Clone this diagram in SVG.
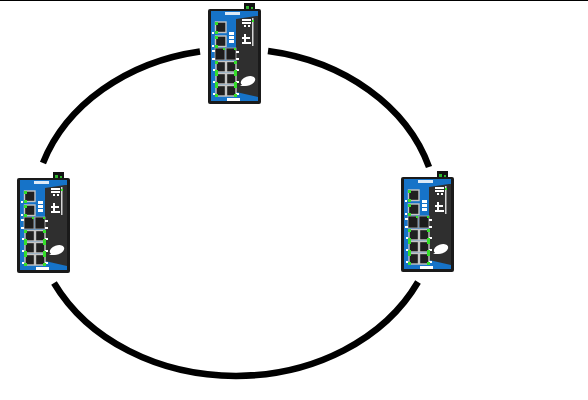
<svg xmlns="http://www.w3.org/2000/svg" xmlns:xlink="http://www.w3.org/1999/xlink" width="588" height="400" viewBox="0 0 588 400">
<style>
.ring{fill:none;stroke:#000;stroke-width:6.500}
.port{fill:#202020;stroke:#c4c4c4;stroke-width:1.400}
.sfp{fill:#1c1c1c;stroke:#a8a8a8;stroke-width:.9}
.led{fill:#35e02a}
.w{fill:#fff}
</style>
<defs>
<g id="sw">
<rect x="36" y="-6" width="11" height="7" fill="#111"/>
<rect x="38" y="-3" width="3" height="3" fill="#2fb52f"/>
<rect x="43" y="-2" width="2" height="2" fill="#2fb52f"/>
<rect x="0" y="0" width="53" height="95" rx="2" fill="#1a1a1a"/>
<rect x="3" y="2" width="47" height="90" fill="#1673c8"/>
<path d="M28 10L48 7H50V88L28 83Z" fill="#2f2f2f"/>
<rect x="17" y="3" width="15" height="3" class="w" opacity=".85"/>
<rect x="7.500" y="13" width="10.500" height="10.500" class="port"/>
<rect x="7.500" y="27" width="10.500" height="10.500" class="port"/>
<rect x="7" y="39" width="10" height="12" class="sfp"/>
<rect x="18" y="39" width="10" height="12" class="sfp"/>
<rect x="8" y="52.500" width="9.500" height="10.500" class="port"/>
<rect x="18.500" y="52.500" width="9.500" height="10.500" class="port"/>
<rect x="8" y="64.500" width="9.500" height="10.500" class="port"/>
<rect x="18.500" y="64.500" width="9.500" height="10.500" class="port"/>
<rect x="8" y="76.500" width="9.500" height="10.500" class="port"/>
<rect x="18.500" y="76.500" width="9.500" height="10.500" class="port"/>
<g class="w">
<rect x="21" y="23" width="5" height="3"/><rect x="21" y="27" width="5" height="3"/><rect x="21" y="31" width="5" height="3"/>
<rect x="34" y="10" width="9" height="2"/><rect x="34" y="13" width="9" height="2"/><rect x="36" y="16" width="2" height="2"/><rect x="40" y="16" width="2" height="2"/>
<rect x="34" y="28" width="8" height="2"/><rect x="34" y="33" width="9" height="2"/><rect x="36" y="25" width="2" height="3"/><rect x="36" y="30" width="2" height="3"/>
<rect x="44" y="9" width="1.500" height="28" opacity=".8"/>
<ellipse cx="40" cy="72" rx="7.500" ry="4.500" transform="rotate(-20 40 72)"/>
<path d="M32 77L37 74L37 77Z"/>
<rect x="19" y="89" width="13" height="3"/>
<rect x="4" y="41" width="3" height="2"/><rect x="4" y="49" width="3" height="2"/><rect x="4" y="23" width="2" height="2"/><rect x="4" y="36" width="2" height="2"/>
<rect x="28" y="42" width="3" height="2"/><rect x="28" y="49" width="3" height="2"/><rect x="28" y="60" width="3" height="2"/><rect x="28" y="72" width="3" height="2"/><rect x="28" y="84" width="3" height="2"/>
<rect x="5" y="60" width="2" height="2"/><rect x="5" y="72" width="2" height="2"/><rect x="5" y="84" width="2" height="2"/>
</g>
<g class="led">
<rect x="7" y="13" width="3" height="3"/><rect x="7" y="22" width="3" height="3"/><rect x="7" y="27" width="3" height="3"/><rect x="7" y="36" width="3" height="3"/>
<rect x="7" y="52" width="3" height="3"/><rect x="7" y="61" width="3" height="3"/><rect x="7" y="64" width="3" height="3"/><rect x="7" y="73" width="3" height="3"/><rect x="7" y="76" width="3" height="3"/><rect x="7" y="85" width="3" height="3"/>
<rect x="26" y="52" width="3" height="3"/><rect x="26" y="61" width="3" height="3"/><rect x="26" y="64" width="3" height="3"/><rect x="26" y="73" width="3" height="3"/><rect x="26" y="76" width="3" height="3"/><rect x="26" y="85" width="3" height="3"/>
<rect x="15" y="39" width="2" height="2"/><rect x="26" y="39" width="2" height="2"/>
<rect x="44" y="11" width="2" height="2"/>
</g>
</g>
</defs>
<rect width="588" height="400" fill="#fff"/>
<rect x="0" y="0" width="588" height="1" fill="#000"/>
<g id="connectors">
<path class="ring" d="M43 163A202 165 0 0 1 200 51.500"/>
<path class="ring" d="M268 51A202 165 0 0 1 429 167"/>
<path class="ring" d="M418 282A202 165 0 0 1 54 283"/>
</g>
<g id="switch-top"><use href="#sw" xlink:href="#sw" x="208" y="9"/></g>
<g id="switch-left"><use href="#sw" xlink:href="#sw" x="17" y="178"/></g>
<g id="switch-right"><use href="#sw" xlink:href="#sw" x="401" y="177"/></g>
</svg>
